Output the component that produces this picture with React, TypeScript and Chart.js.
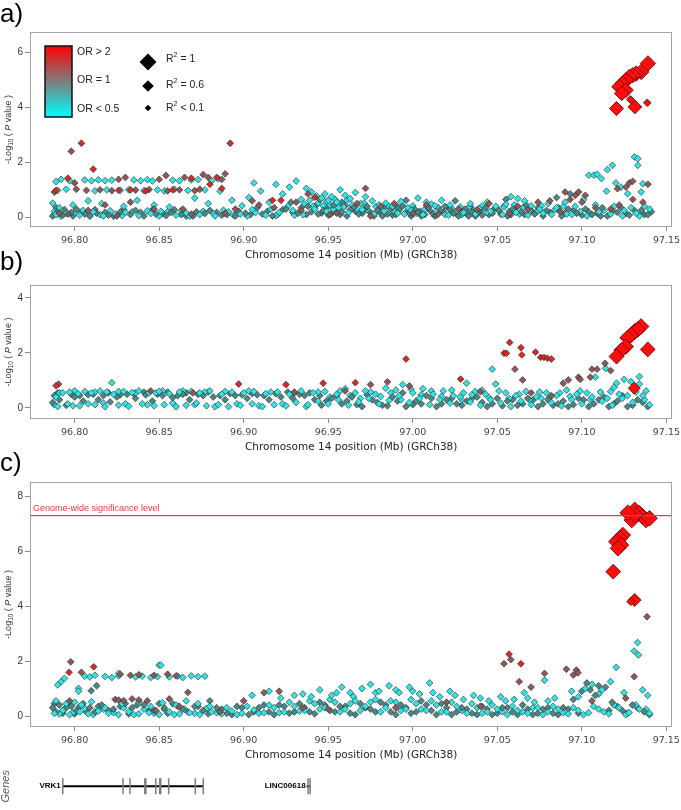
import React, { useEffect, useRef } from 'react';
import { Chart, registerables } from 'chart.js';
Chart.register(...registerables);

// ---------- shared axis values ----------
const X_MIN = 96.7736;
const X_MAX = 97.1535;
const xTicks = [96.8, 96.85, 96.9, 96.95, 97.0, 97.05, 97.1, 97.15];
const aYTicks = [0, 2, 4, 6];
const bYTicks = [0, 2, 4];
const cYTicks = [0, 2, 4, 6, 8];
const sigLevel = 7.3;
const xTitle = 'Chromosome 14 position (Mb) (GRCh38)';

// ---------- panel a ----------
const aCyan: [number, number][] = [
  [96.789,1.30],[96.792,1.38],[96.797,1.33],[96.806,1.36],[96.810,1.33],[96.814,1.36],[96.818,1.33],[96.822,1.35],[96.835,1.36],[96.839,1.33],[96.843,1.37],[96.846,1.32],[96.858,1.35],[96.862,1.33],[96.869,1.36],[96.873,1.37],[96.881,1.33],[96.885,1.40],
  [96.790,0.98],[96.795,1.02],[96.812,0.96],[96.819,1.00],[96.827,0.98],[96.832,1.00],[96.841,0.97],[96.849,1.00],[96.853,0.96],[96.859,1.02],[96.867,0.98],[96.877,1.00],[96.886,0.95],
  [96.787,0.52],[96.791,0.35],[96.799,0.45],[96.808,0.60],[96.816,0.50],[96.829,0.40],[96.837,0.62],[96.847,0.45],[96.856,0.38],[96.871,0.70],[96.879,0.50],[96.893,0.62],[96.899,0.42],
  [96.903,0.72],[96.906,1.25],[96.910,0.95],[96.915,0.55],[96.919,1.20],[96.923,0.85],[96.927,1.10],[96.931,1.32],[96.934,0.65],[96.937,1.05],[96.940,0.92],[96.943,0.78],[96.946,0.70],[96.948,0.85],[96.950,0.62],[96.952,0.75],[96.955,0.55],[96.957,1.00],[96.960,0.80],[96.963,0.68],[96.966,0.90],[96.969,0.50],[96.972,0.75],[96.976,0.60],[96.980,0.45],[96.984,0.52],[96.988,0.40],[96.993,0.58],[96.997,0.35],[97.003,0.70],[97.008,0.55],[97.013,0.42],[97.017,0.62],[97.022,0.45],[97.028,0.38],[97.034,0.50],[97.039,0.32],[97.044,0.55],[97.049,0.40],
  [97.055,0.48],[97.058,0.75],[97.062,0.68],[97.066,0.60],[97.070,0.42],[97.075,0.30],[97.080,0.50],[97.085,0.35],[97.090,0.55],[97.096,0.40],[97.101,0.65],[97.104,1.53],[97.107,1.53],[97.109,1.56],[97.1115,1.41],[97.1145,0.95],[97.115,1.73],[97.118,1.89],[97.120,1.25],[97.127,0.86],[97.131,2.19],[97.133,2.13],[97.133,1.89],[97.135,0.92],[97.136,1.22],[97.123,1.10],
  [96.789,0.10],[96.795,0.15],[96.803,0.08],[96.811,0.20],[96.817,0.05],[96.824,0.12],[96.830,0.18],[96.838,0.06],[96.845,0.14],[96.851,0.22],[96.860,0.08],[96.866,0.16],[96.874,0.10],[96.883,0.05],[96.891,0.20],[96.898,0.12],[96.905,0.28],[96.913,0.08],[96.921,0.18],[96.929,0.25],[96.935,0.10],[96.942,0.30],[96.949,0.22],[96.956,0.35],[96.962,0.18],[96.970,0.28],[96.977,0.12],[96.983,0.22],[96.991,0.15],[96.999,0.25],[97.006,0.10],[97.014,0.20],[97.021,0.08],[97.030,0.18],[97.037,0.12],[97.046,0.22],[97.053,0.10],[97.061,0.18],[97.068,0.08],[97.077,0.15],[97.087,0.22],[97.094,0.10],[97.110,0.20],[97.117,0.12],[97.125,0.25],[97.132,0.15],[97.140,0.30]
];
const aCyanLow: [number, number][] = [
  [96.788,0.22],[96.792,0.05],[96.800,0.18],[96.805,0.25],[96.815,0.10],[96.821,0.24],[96.828,0.06],[96.834,0.20],[96.843,0.24],[96.850,0.05],[96.855,0.20],[96.863,0.24],[96.868,0.04],[96.876,0.22],[96.882,0.14],[96.888,0.26],[96.894,0.08],[96.902,0.05],[96.907,0.18],[96.916,0.30],[96.919,0.06],[96.926,0.40],[96.930,0.08],[96.936,0.48],[96.939,0.62],[96.941,0.40],[96.944,0.52],[96.947,0.42],[96.949,0.58],[96.951,0.45],[96.953,0.30],[96.954,0.65],[96.956,0.48],[96.959,0.38],[96.961,0.62],[96.964,0.45],[96.967,0.30],[96.971,0.52],[96.974,0.22],[96.978,0.40],[96.981,0.30],[96.986,0.38],[96.989,0.22],[96.992,0.32],[96.995,0.12],[97.000,0.42],[97.002,0.15],[97.007,0.30],[97.011,0.48],[97.015,0.35],[97.019,0.10],[97.023,0.32],[97.026,0.22],[97.029,0.10],[97.033,0.35],[97.036,0.25],[97.041,0.42],[97.044,0.18],[97.050,0.30],[97.054,0.38],[97.057,0.22],[97.060,0.45],[97.063,0.12],[97.065,0.35],[97.069,0.25],[97.073,0.18],[97.076,0.42],[97.082,0.10],[97.084,0.28],[97.089,0.40],[97.091,0.12],[97.099,0.22],[97.103,0.05],[97.108,0.45],[97.113,0.25],[97.119,0.40],[97.124,0.05],[97.129,0.35],[97.134,0.05],[97.137,0.40]
];
const aTeal: [number, number][] = [
  [96.787,0.05],[96.790,0.22],[96.793,0.08],[96.798,0.18],[96.801,0.30],[96.806,0.12],[96.809,0.04],[96.813,0.15],[96.820,0.08],[96.827,0.20],[96.833,0.10],[96.836,0.25],[96.841,0.05],[96.848,0.12],[96.854,0.06],[96.857,0.18],[96.863,0.10],[96.870,0.05],[96.877,0.14],[96.880,0.25],[96.887,0.08],[96.895,0.05],[96.901,0.15],[96.908,0.35],[96.911,0.12],[96.917,0.05],[96.925,0.30],[96.932,0.15],[96.938,0.40],[96.944,0.12],[96.947,0.25],[96.953,0.45],[96.958,0.20],[96.961,0.05],[96.965,0.35],[96.968,0.12],[96.973,0.40],[96.979,0.25],[96.982,0.05],[96.987,0.30],[96.990,0.10],[96.994,0.42],[96.998,0.15],[97.001,0.30],[97.005,0.05],[97.009,0.35],[97.012,0.12],[97.016,0.25],[97.019,0.40],[97.024,0.15],[97.027,0.05],[97.031,0.30],[97.035,0.20],[97.041,0.08],[97.043,0.35],[97.047,0.15],[97.051,0.25],[97.056,0.05],[97.059,0.30],[97.064,0.20],[97.067,0.45],[97.072,0.12],[97.079,0.25],[97.088,0.05],[97.092,0.30],[97.097,0.15],[97.102,0.30],[97.106,0.10],[97.112,0.35],[97.115,0.05],[97.121,0.18],[97.128,0.08],[97.135,0.25],[97.139,0.10],
  [96.928,0.55],[96.945,0.65],[96.958,0.55],[96.996,0.62],[97.025,0.60],[97.055,0.65],[97.085,0.72],[97.093,0.85],
  [96.940,0.20],[96.950,0.08],[96.963,0.28],[96.975,0.18],[96.985,0.12],[96.992,0.25],[97.003,0.18],[97.014,0.08],[97.022,0.28],[97.033,0.05],[97.039,0.22]
];
const aTealLow: [number, number][] = [
  [96.789,0.35],[96.794,0.28],[96.799,0.05],[96.804,0.20],[96.812,0.28],[96.818,0.18],[96.823,0.04],[96.829,0.28],[96.839,0.18],[96.846,0.28],[96.852,0.15],[96.859,0.28],[96.866,0.05],[96.872,0.20],[96.884,0.18],[96.890,0.10],[96.897,0.22],[96.904,0.10],[96.914,0.22],[96.920,0.10],[96.923,0.28],[96.929,0.18],[96.934,0.35],[96.937,0.10],[96.943,0.45],[96.946,0.15],[96.949,0.35],[96.952,0.15],[96.955,0.25],[96.957,0.10],[96.960,0.42],[96.966,0.22],[96.970,0.15],[96.972,0.30],[96.977,0.05],[96.980,0.20],[96.983,0.35],[96.988,0.08],[96.991,0.38],[96.997,0.25],[96.999,0.05],[97.004,0.22],[97.007,0.10],[97.010,0.25],[97.013,0.05],[97.018,0.20],[97.021,0.35],[97.026,0.12],[97.029,0.25],[97.032,0.12],[97.034,0.40],[97.037,0.05],[97.040,0.25],[97.045,0.10],[97.048,0.30],[97.052,0.12],[97.054,0.40],[97.058,0.10],[97.061,0.35],[97.066,0.10],[97.070,0.25],[97.074,0.35],[97.077,0.05],[97.081,0.18],[97.086,0.35],[97.090,0.15],[97.095,0.25],[97.100,0.08],[97.104,0.20],[97.109,0.15],[97.111,0.05],[97.118,0.25],[97.123,0.35],[97.126,0.15],[97.131,0.25],[97.137,0.10],[97.141,0.20]
];
const aBrown: [number, number][] = [
  [96.788,0.92],[96.801,1.02],[96.807,0.98],[96.815,1.00],[96.822,0.97],[96.836,0.99],[96.844,1.01],[96.855,0.96],[96.862,1.00],[96.871,0.97],[96.874,1.02],
  [96.800,1.25],[96.826,1.38],[96.830,1.45],[96.850,1.38],[96.854,1.52],[96.865,1.45],[96.876,1.55],[96.879,1.45],[96.889,1.58],[96.887,1.38],
  [96.798,2.40],
  [96.796,0.12],[96.818,0.45],[96.833,0.55],[96.864,0.30],[96.889,0.15],[96.909,0.45],[96.934,0.25],[96.951,0.10],[96.975,0.05],[96.989,0.50],[97.015,0.12],[97.038,0.28],[97.057,0.15],[97.074,0.55],[97.090,0.92],[97.096,0.80],[97.098,0.92],[97.100,0.55],[97.121,1.04],[97.126,1.10],[97.128,1.25],[97.130,1.31],[97.139,1.20],[97.122,0.45],[97.130,0.65],[97.108,0.35],[96.972,1.05],[96.938,0.85],
  [96.791,0.15],[96.808,0.25],[96.825,0.05],[96.847,0.30],[96.869,0.12],[96.895,0.30],[96.905,0.60],[96.918,0.35],[96.931,0.55],[96.955,0.15],[96.967,0.50],[96.981,0.40],[97.000,0.15],[97.008,0.45],[97.027,0.30],[97.045,0.50],[97.062,0.40],[97.068,0.28],[97.081,0.60],[97.087,0.20],[97.093,0.65],[97.102,0.80],[97.117,0.30],[97.136,0.55]
];
const aRed: [number, number][] = [
  [96.804,2.69],[96.892,2.69],[96.811,1.75],[96.796,1.42],[96.789,0.98],[96.826,0.98],[96.833,1.00],[96.842,0.96],[96.858,1.00],[96.884,1.45],[96.887,1.05],[96.869,1.42],[96.880,1.20],[96.917,0.62],[96.922,0.62],[96.942,0.73]
];
const aLead: [number, number, number][] = [
  [97.139,5.59,0.85],[97.135,5.28,0.85],[97.132,5.22,0.85],[97.130,5.16,0.85],[97.128,5.10,0.82],[97.126,4.98,0.82],[97.124,4.86,0.8],[97.122,4.74,0.8],[97.126,4.62,0.78],[97.1235,4.50,0.78],[97.1204,3.95,0.72],[97.1313,4.01,0.68],[97.1286,4.28,0.12],[97.1386,4.16,0.08]
];

// ---------- panel b ----------
const bCyan: [number, number][] = [
  [96.789,0.40],[96.793,0.55],[96.797,0.58],[96.802,0.52],[96.806,0.60],[96.810,0.55],[96.815,0.62],[96.819,0.58],[96.823,0.50],[96.829,0.60],[96.834,0.56],[96.838,0.62],[96.844,0.55],[96.850,0.60],[96.856,0.52],[96.862,0.58],[96.869,0.60],[96.874,0.55],[96.880,0.62],[96.887,0.50],[96.893,0.58],[96.900,0.55],[96.906,0.60],[96.913,0.52],[96.920,0.58],[96.927,0.50],[96.934,0.62],[96.941,0.55],[96.948,0.60],[96.955,0.50],[96.822,0.92],
  [96.790,0.05],[96.796,0.15],[96.803,0.08],[96.812,0.12],[96.818,0.05],[96.826,0.10],[96.832,0.06],[96.840,0.15],[96.847,0.08],[96.853,0.12],[96.860,0.05],[96.866,0.10],[96.872,0.18],[96.878,0.08],[96.885,0.12],[96.891,0.05],[96.898,0.10],[96.905,0.15],[96.911,0.05],[96.918,0.12],[96.925,0.08],[96.931,0.20],[96.938,0.12],[96.944,0.25],[96.950,0.15],[96.956,0.30],[96.962,0.10],[96.968,0.22],[96.974,0.35],[96.980,0.15],[96.986,0.28],[96.992,0.45],[96.998,0.20],[97.004,0.35],[97.010,0.12],[97.016,0.30],[97.022,0.18],[97.028,0.40],[97.034,0.22],[97.040,0.10],[97.046,0.30],[97.052,0.18],[97.058,0.05],[97.064,0.25],[97.070,0.12],[97.076,0.35],[97.082,0.20],[97.088,0.08],[97.094,0.30],[97.100,0.15],[97.106,0.40],[97.112,0.25],[97.118,0.10],[97.124,0.35],[97.130,0.20],[97.136,0.45],[97.140,0.12],
  [96.960,0.70],[96.966,0.55],[96.972,0.62],[96.978,0.50],[96.984,0.72],[96.990,0.65],[96.994,0.85],[97.000,0.55],[97.006,0.70],[97.012,0.50],[97.018,0.62],[97.024,0.45],[97.030,0.55],[97.0318,0.90],[97.037,0.60],[97.043,0.50],[97.047,1.41],[97.049,0.87],[97.055,0.55],[97.061,0.45],[97.067,0.60],[97.073,0.40],[97.079,0.55],[97.085,0.45],[97.091,0.65],[97.097,0.50],[97.103,0.55],[97.108,1.12],[97.114,1.44],[97.1205,0.90],[97.125,1.04],[97.129,0.96],[97.134,1.14],[97.134,0.87],[97.117,0.60],[97.122,0.50],[97.138,0.62]
];
const bCyanLow: [number, number][] = [
  [96.788,0.12],[96.791,0.55],[96.799,0.08],[96.800,0.62],[96.808,0.15],[96.812,0.58],[96.817,0.18],[96.826,0.60],[96.830,0.15],[96.836,0.55],[96.843,0.12],[96.848,0.55],[96.852,0.62],[96.858,0.18],[96.864,0.62],[96.871,0.12],[96.877,0.58],[96.883,0.05],[96.889,0.60],[96.896,0.15],[96.903,0.62],[96.909,0.08],[96.916,0.58],[96.923,0.15],[96.930,0.55],[96.937,0.05],[96.944,0.58],[96.951,0.40],[96.957,0.62],[96.963,0.45],[96.969,0.35],[96.975,0.58],[96.981,0.42],[96.987,0.55],[96.993,0.30],[96.999,0.68],[97.005,0.48],[97.011,0.62],[97.017,0.42],[97.023,0.65],[97.029,0.30],[97.035,0.48],[97.041,0.65],[97.045,0.38],[97.051,0.62],[97.057,0.35],[97.063,0.50],[97.069,0.30],[97.075,0.58],[97.081,0.38],[97.087,0.55],[97.093,0.42],[97.099,0.62],[97.105,0.30],[97.111,0.58],[97.115,0.35],[97.119,0.75],[97.127,0.45],[97.132,0.58],[97.137,0.30]
];
const bTeal: [number, number][] = [
  [96.787,0.20],[96.788,0.45],[96.791,0.30],[96.795,0.10],[96.800,0.40],[96.805,0.25],[96.808,0.48],[96.814,0.30],[96.817,0.45],[96.821,0.22],[96.825,0.40],[96.831,0.50],[96.836,0.35],[96.842,0.48],[96.846,0.25],[96.852,0.45],[96.858,0.38],[96.864,0.50],[96.868,0.30],[96.876,0.45],[96.882,0.40],[96.889,0.30],[96.895,0.45],[96.902,0.35],[96.908,0.48],[96.915,0.30],[96.922,0.40],[96.929,0.35],[96.936,0.45],[96.942,0.30],[96.946,0.10],[96.952,0.35],[96.958,0.15],[96.964,0.40],[96.970,0.05],[96.976,0.30],[96.982,0.10],[96.988,0.40],[96.996,0.05],[97.002,0.25],[97.008,0.45],[97.014,0.05],[97.020,0.30],[97.026,0.15],[97.032,0.25],[97.038,0.40],[97.044,0.05],[97.050,0.35],[97.056,0.25],[97.062,0.10],[97.068,0.35],[97.074,0.05],[97.080,0.30],[97.086,0.15],[97.092,0.05],[97.098,0.35],[97.104,0.05],[97.110,0.30],[97.116,0.05],[97.121,0.25],[97.127,0.05],[97.133,0.30],[97.139,0.05]
];
const bTealLow: [number, number][] = [
  [96.790,0.55],[96.798,0.50],[96.803,0.45],[96.811,0.50],[96.820,0.55],[96.827,0.48],[96.835,0.52],[96.841,0.58],[96.849,0.50],[96.855,0.58],[96.861,0.45],[96.866,0.55],[96.873,0.50],[96.879,0.58],[96.886,0.45],[96.892,0.52],[96.899,0.48],[96.905,0.52],[96.912,0.45],[96.919,0.52],[96.926,0.58],[96.933,0.50],[96.939,0.55],[96.945,0.45],[96.949,0.25],[96.955,0.45],[96.961,0.25],[96.967,0.12],[96.973,0.48],[96.979,0.20],[96.985,0.08],[96.991,0.25],[96.994,0.55],[97.000,0.12],[97.005,0.15],[97.011,0.35],[97.017,0.15],[97.023,0.35],[97.029,0.10],[97.035,0.35],[97.041,0.20],[97.047,0.15],[97.053,0.08],[97.059,0.30],[97.065,0.15],[97.071,0.28],[97.077,0.15],[97.083,0.10],[97.089,0.25],[97.095,0.12],[97.101,0.30],[97.107,0.15],[97.113,0.40],[97.119,0.15],[97.124,0.45],[97.130,0.10],[97.136,0.20]
];
const bBrown: [number, number][] = [
  [96.7905,0.87],[96.845,0.62],[96.870,0.55],[96.930,0.58],[96.960,0.62],[96.975,0.85],[96.985,0.95],[96.998,0.80],[97.0604,1.41],[97.065,1.02],[97.089,0.90],[97.092,1.02],[97.098,1.12],[97.099,1.04],[97.105,1.12],[97.106,1.41],[97.109,1.41],[97.1137,1.62],[97.117,1.36],[97.082,0.45],[97.070,0.55],[97.040,0.60]
];
const bRed: [number, number][] = [
  [96.789,0.81],[96.897,0.87],[96.925,0.85],[96.947,0.90],[96.966,0.92],[96.996,1.78],[97.0283,1.05],[97.0573,2.38],[97.054,1.99],[97.0554,1.99],[97.064,2.19],[97.0645,1.93],[97.0726,2.03],[97.0756,1.84],[97.0776,1.84],[97.0796,1.81],[97.082,1.78]
];
const bLead: [number, number, number][] = [
  [97.135,2.96,0.88],[97.1313,2.78,0.88],[97.133,2.85,0.86],[97.129,2.65,0.86],[97.127,2.55,0.84],[97.126,2.23,0.84],[97.1235,2.11,0.82],[97.1205,1.87,0.8],[97.139,2.13,0.78],[97.131,0.72,0.5]
];

// ---------- panel c ----------
const cCyan: [number, number][] = [
  [96.806,1.45],[96.809,1.42],[96.812,1.48],[96.818,1.44],[96.822,1.40],[96.826,1.46],[96.836,1.42],[96.840,1.45],[96.845,1.40],[96.849,1.43],[96.856,1.42],[96.861,1.45],[96.864,1.40],[96.869,1.46],[96.873,1.43],[96.877,1.45],
  [96.792,1.25],[96.794,1.37],[96.790,1.13],[96.8023,1.00],[96.8023,0.90],[96.850,1.85],[96.851,1.85],[96.826,1.55],
  [96.789,0.55],[96.795,0.45],[96.800,0.50],[96.804,0.40],[96.810,0.52],[96.818,0.30],[96.828,0.45],[96.838,0.50],[96.845,0.35],[96.852,0.48],[96.860,0.40],[96.866,0.55],[96.873,0.45],[96.880,0.35],
  [96.788,0.10],[96.793,0.20],[96.797,0.05],[96.803,0.15],[96.808,0.08],[96.814,0.18],[96.820,0.10],[96.826,0.05],[96.832,0.15],[96.838,0.08],[96.844,0.12],[96.850,0.05],[96.856,0.15],[96.862,0.08],[96.868,0.12],[96.874,0.05],[96.881,0.15],[96.887,0.08],[96.893,0.18],[96.899,0.10],[96.906,0.22],[96.912,0.12],[96.918,0.30],[96.924,0.15],[96.930,0.35],[96.936,0.20],[96.942,0.45],[96.948,0.30],[96.954,0.50],[96.960,0.25],[96.966,0.55],[96.972,0.35],[96.978,0.60],[96.984,0.30],[96.990,0.50],[96.996,0.25],[97.002,0.45],[97.008,0.20],[97.014,0.40],[97.020,0.15],[97.026,0.35],[97.032,0.10],[97.038,0.30],[97.044,0.15],[97.050,0.25],[97.056,0.05],[97.062,0.20],[97.068,0.10],[97.074,0.30],[97.080,0.15],[97.086,0.25],[97.092,0.08],[97.098,0.20],[97.104,0.12],[97.110,0.25],[97.116,0.08],[97.122,0.30],[97.128,0.12],[97.134,0.25],[97.140,0.10],
  [96.905,0.75],[96.915,0.90],[96.922,0.65],[96.935,0.80],[96.945,0.95],[96.952,0.75],[96.958,1.05],[96.963,0.85],[96.970,1.00],[96.975,1.15],[96.980,0.90],[96.986,1.10],[96.992,0.85],[96.998,1.05],[97.004,0.80],[97.010,1.20],[97.016,0.70],[97.022,0.90],[97.030,0.60],[97.036,0.75],[97.045,0.55],[97.052,0.70],[97.060,0.60],[97.066,0.85],[97.072,0.50],[97.078,1.30],[97.084,0.65],[97.094,0.90],[97.102,1.00],[97.106,1.15],[97.112,0.95],[97.117,1.25],[97.1204,1.77],[97.133,2.67],[97.131,2.36],[97.1335,2.22],[97.125,0.85],[97.136,0.95],[97.139,0.75]
];
const cCyanLow: [number, number][] = [
  [96.791,0.08],[96.795,0.30],[96.799,0.12],[96.806,0.28],[96.811,0.05],[96.817,0.25],[96.823,0.12],[96.829,0.30],[96.835,0.05],[96.841,0.25],[96.847,0.10],[96.853,0.25],[96.859,0.05],[96.865,0.25],[96.871,0.10],[96.878,0.28],[96.884,0.12],[96.890,0.30],[96.896,0.05],[96.902,0.35],[96.909,0.10],[96.915,0.40],[96.921,0.12],[96.927,0.50],[96.933,0.18],[96.939,0.55],[96.945,0.25],[96.951,0.60],[96.957,0.15],[96.963,0.45],[96.969,0.20],[96.975,0.50],[96.981,0.15],[96.987,0.55],[96.993,0.20],[96.999,0.60],[97.005,0.25],[97.011,0.55],[97.017,0.15],[97.023,0.50],[97.029,0.20],[97.035,0.45],[97.041,0.10],[97.047,0.40],[97.053,0.15],[97.059,0.35],[97.065,0.15],[97.071,0.30],[97.077,0.05],[97.083,0.35],[97.089,0.12],[97.095,0.30],[97.101,0.05],[97.107,0.35],[97.113,0.15],[97.119,0.40],[97.126,0.05],[97.132,0.40],[97.138,0.25],
  [96.930,0.75],[96.940,0.70],[96.955,0.85],[96.965,0.70],[96.978,0.85],[96.990,0.95],[97.000,0.90],[97.012,0.85],[97.025,0.75],[97.040,0.65],[97.055,0.55],[97.068,0.65],[97.080,0.55],[97.098,0.70],[97.110,0.80]
];
const cTeal: [number, number][] = [
  [96.787,0.30],[96.789,0.15],[96.791,0.40],[96.794,0.25],[96.798,0.35],[96.801,0.20],[96.805,0.45],[96.809,0.30],[96.812,0.15],[96.816,0.40],[96.823,0.25],[96.830,0.45],[96.834,0.30],[96.841,0.40],[96.847,0.20],[96.853,0.30],[96.858,0.45],[96.864,0.25],[96.871,0.35],[96.876,0.20],[96.8098,0.92],[96.813,1.10],[96.880,0.55],[96.884,0.30],[96.890,0.10],[96.896,0.35],[96.903,0.05],[96.909,0.30],[96.915,0.15],[96.921,0.40],[96.927,0.10],[96.933,0.45],[96.939,0.15],[96.945,0.50],[96.951,0.20],[96.957,0.35],[96.963,0.10],[96.969,0.45],[96.975,0.25],[96.981,0.50],[96.987,0.15],[96.993,0.40],[96.999,0.10],[97.005,0.55],[97.011,0.20],[97.017,0.45],[97.023,0.05],[97.029,0.30],[97.035,0.10],[97.041,0.35],[97.047,0.05],[97.053,0.30],[97.059,0.15],[97.065,0.40],[97.071,0.05],[97.077,0.25],[97.083,0.10],[97.089,0.30],[97.095,0.60],[97.100,0.90],[97.103,1.20],[97.108,0.75],[97.114,1.05],[97.118,0.50],[97.124,0.20],[97.130,0.40],[97.137,0.15]
];
const cTealLow: [number, number][] = [
  [96.788,0.45],[96.793,0.10],[96.796,0.40],[96.800,0.08],[96.803,0.35],[96.807,0.15],[96.814,0.35],[96.820,0.20],[96.827,0.35],[96.832,0.08],[96.837,0.40],[96.844,0.20],[96.850,0.45],[96.855,0.10],[96.861,0.35],[96.867,0.15],[96.873,0.35],[96.879,0.08],[96.887,0.25],[96.893,0.05],[96.899,0.30],[96.906,0.15],[96.912,0.40],[96.918,0.05],[96.924,0.35],[96.930,0.15],[96.936,0.30],[96.942,0.08],[96.948,0.40],[96.954,0.15],[96.960,0.35],[96.966,0.05],[96.972,0.30],[96.978,0.15],[96.984,0.40],[96.990,0.05],[96.996,0.30],[97.002,0.15],[97.008,0.40],[97.014,0.05],[97.020,0.30],[97.026,0.15],[97.032,0.25],[97.038,0.05],[97.044,0.25],[97.050,0.10],[97.056,0.30],[97.062,0.05],[97.068,0.25],[97.074,0.10],[97.080,0.30],[97.086,0.05],[97.092,0.25],[97.098,0.10],[97.105,0.95],[97.110,1.10],[97.116,0.20],[97.121,0.35],[97.127,0.10],[97.133,0.30],[97.140,0.05]
];
const cBrown: [number, number][] = [
  [96.7977,1.97],[96.804,1.59],[96.827,1.52],[96.833,1.48],[96.838,1.50],[96.847,1.48],[96.855,1.52],[96.860,1.46],[96.867,0.86],[96.797,0.55],[96.824,0.60],[96.826,0.58],[96.829,0.56],[96.834,0.62],[96.838,0.58],[96.843,0.55],[96.848,0.20],[96.856,0.62],[96.862,0.35],[96.886,0.15],[96.900,0.55],[96.912,0.85],[96.921,0.90],[96.935,0.30],[96.950,0.25],[96.990,0.30],[97.020,0.50],[97.040,0.35],[97.054,1.90],[97.058,2.05],[97.063,1.25],[97.070,1.05],[97.078,1.55],[97.0909,1.70],[97.0968,1.67],[97.0978,1.57],[97.095,1.49],[97.131,1.43],[97.1386,3.61],[97.106,0.55],[97.126,0.65]
];
const cRed: [number, number][] = [
  [96.7967,1.59],[96.8113,1.79],[97.057,2.25],[97.064,1.90]
];
const cLead: [number, number, number][] = [
  [97.1313,7.49,0.9],[97.134,7.37,0.9],[97.136,7.25,0.88],[97.138,7.13,0.88],[97.1296,7.13,0.88],[97.1315,7.31,0.9],[97.1272,7.39,0.88],[97.1401,7.19,0.86],[97.1243,6.58,0.86],[97.1225,6.46,0.86],[97.1204,6.34,0.86],[97.1233,6.22,0.84],[97.1214,6.10,0.84],[97.1186,5.25,0.78],[97.1313,4.22,0.6],[97.129,4.16,0.12]
];

// ---------- gene track ----------
const vrk1Span = [96.793, 96.8762];
const vrk1Exons = [96.793, 96.8287, 96.8328, 96.8416, 96.8422, 96.8481, 96.8504, 96.851, 96.8557, 96.8715, 96.8762];
const lincSpan = [96.9374, 96.9395];
const lincExons = [96.9383, 96.9395];

// ---------- styling ----------
const COL = { cyan: '#2fe4e4', teal: '#4b8787', brown: '#8e5858', red: '#d42a2a', lead: '#ff0d0d' };
const EDGE = 'rgba(35,35,35,0.85)';
const SANS = '"Liberation Sans", Arial, sans-serif';
const DEJAVU = '"DejaVu Sans", Verdana, sans-serif';

const pointDs = (arr: [number, number][], color: string) => ({
  data: arr.map(([x, y]) => ({ x, y })),
  pointStyle: 'rectRot', pointRadius: 3.4, backgroundColor: color,
  borderColor: EDGE, borderWidth: 0.7, showLine: false
});
const leadDs = (arr: [number, number, number][]) => ({
  data: arr.map(([x, y, r2]) => ({ x, y, r2 })),
  pointStyle: 'rectRot',
  pointRadius: (c: any) => (c.raw ? 3.4 + 5.1 * c.raw.r2 : 3.4),
  backgroundColor: COL.lead, borderColor: '#5a0000', borderWidth: 0.8, showLine: false
});

const framePlugin = {
  id: 'frame',
  beforeDatasetsDraw(chart: any) {
    const { ctx, chartArea: a } = chart;
    ctx.save();
    ctx.strokeStyle = '#a3a3a3';
    ctx.lineWidth = 1;
    ctx.strokeRect(Math.round(a.left) + 0.5, Math.round(a.top) + 0.5, Math.round(a.right - a.left) - 1, Math.round(a.bottom - a.top) - 1);
    ctx.restore();
  }
};

const yTitlePlugin = {
  id: 'ytitle',
  afterDraw(chart: any) {
    const { ctx, chartArea: a } = chart;
    const yc = (a.top + a.bottom) / 2;
    ctx.save();
    ctx.translate(11, yc);
    ctx.rotate(-Math.PI / 2);
    ctx.fillStyle = '#333';
    ctx.textBaseline = 'alphabetic';
    const parts = [
      { t: '-Log', f: `9px ${SANS}`, dy: 0 },
      { t: '10', f: `6.5px ${SANS}`, dy: 2 },
      { t: ' ( ', f: `9px ${SANS}`, dy: 0 },
      { t: 'P', f: `italic 9px ${SANS}`, dy: 0 },
      { t: ' value )', f: `9px ${SANS}`, dy: 0 }
    ];
    let total = 0;
    for (const p of parts) { ctx.font = p.f; total += ctx.measureText(p.t).width; }
    let x = -total / 2;
    for (const p of parts) {
      ctx.font = p.f;
      ctx.fillText(p.t, x, p.dy);
      x += ctx.measureText(p.t).width;
    }
    ctx.restore();
  }
};

const letterPlugin = (letter: string, baseline: number) => ({
  id: 'letter' + letter,
  afterDraw(chart: any) {
    const { ctx } = chart;
    ctx.save();
    ctx.fillStyle = '#000';
    ctx.font = `26px ${SANS}`;
    ctx.textBaseline = 'alphabetic';
    ctx.fillText(letter, 0, baseline);
    ctx.restore();
  }
});

const legendPlugin = {
  id: 'orlegend',
  afterDraw(chart: any) {
    const { ctx } = chart;
    ctx.save();
    const g = ctx.createLinearGradient(0, 46, 0, 117);
    g.addColorStop(0, '#ff0000');
    g.addColorStop(0.5, '#7d7d7d');
    g.addColorStop(1, '#00ffff');
    ctx.fillStyle = g;
    ctx.fillRect(45, 46, 27, 71);
    ctx.strokeStyle = '#111';
    ctx.lineWidth = 1.5;
    ctx.strokeRect(45, 46, 27, 71);
    ctx.fillStyle = '#222';
    ctx.font = `10.5px ${SANS}`;
    ctx.textBaseline = 'middle';
    ctx.fillText('OR > 2', 77, 52);
    ctx.fillText('OR = 1', 77, 80);
    ctx.fillText('OR < 0.5', 77, 109);
    const dia = (x: number, y: number, r: number) => {
      ctx.beginPath();
      ctx.moveTo(x - r, y); ctx.lineTo(x, y - r); ctx.lineTo(x + r, y); ctx.lineTo(x, y + r);
      ctx.closePath();
      ctx.fillStyle = '#000';
      ctx.fill();
    };
    dia(148, 62, 8.5);
    dia(148, 86, 5.8);
    dia(148, 108, 3.3);
    const rlab = (y: number, rest: string) => {
      ctx.fillStyle = '#222';
      ctx.font = `10.5px ${SANS}`;
      ctx.fillText('R', 166, y);
      const w = ctx.measureText('R').width;
      ctx.font = `7px ${SANS}`;
      ctx.fillText('2', 166 + w, y - 4);
      const w2 = ctx.measureText('2').width;
      ctx.font = `10.5px ${SANS}`;
      ctx.fillText(rest, 166 + w + w2, y);
    };
    rlab(59, ' = 1');
    rlab(85, ' = 0.6');
    rlab(108, ' < 0.1');
    ctx.restore();
  }
};

const sigPlugin = {
  id: 'sig',
  afterDatasetsDraw(chart: any) {
    const { ctx, chartArea: a, scales } = chart;
    const y = Math.round(scales.y.getPixelForValue(sigLevel));
    ctx.save();
    ctx.fillStyle = '#e8393b';
    ctx.fillRect(a.left + 1, y, a.right - a.left - 2, 1.2);
    ctx.font = `9px ${SANS}`;
    ctx.textBaseline = 'alphabetic';
    ctx.fillText('Genome-wide significance level', a.left + 3, y - 4.5);
    ctx.restore();
  }
};

function panelConfig(o: any) {
  const datasets = [
    leadDs(o.lead),
    pointDs(o.red, COL.red),
    pointDs(o.brown, COL.brown),
    pointDs(o.cyan, COL.cyan),
    pointDs(o.teal, COL.teal),
    pointDs(o.cyanLow, COL.cyan),
    pointDs(o.tealLow, COL.teal)
  ];
  return {
    type: 'scatter',
    data: { datasets },
    options: {
      animation: false,
      responsive: false,
      devicePixelRatio: 1,
      layout: { padding: { top: o.padTop, right: 3, left: 0, bottom: 0 } },
      plugins: { legend: { display: false }, tooltip: { enabled: false } },
      scales: {
        x: {
          type: 'linear', min: X_MIN, max: X_MAX,
          afterBuildTicks: (s: any) => { s.ticks = xTicks.map((v) => ({ value: v })); },
          afterFit: (s: any) => { s.height = 36; s.paddingLeft = 0; s.paddingRight = 0; },
          ticks: { callback: (v: number) => Number(v).toFixed(2), font: { family: DEJAVU, size: 9.5 }, color: '#444', padding: 4, maxRotation: 0, autoSkip: false },
          grid: { drawOnChartArea: false, drawTicks: true, tickLength: 4, color: '#8a8a8a' },
          border: { display: false },
          title: { display: true, text: xTitle, font: { family: DEJAVU, size: 10.5 }, color: '#222', padding: { top: 0, bottom: 1.7 } }
        },
        y: {
          type: 'linear', min: o.yMin, max: o.yMax,
          afterBuildTicks: (s: any) => { s.ticks = o.yTicks.map((v: number) => ({ value: v })); },
          afterFit: (s: any) => { s.width = 30; s.paddingTop = 0; s.paddingBottom = 0; },
          ticks: { font: { family: SANS, size: 10 }, color: '#333', padding: 2, autoSkip: false },
          grid: { drawOnChartArea: false, drawTicks: true, tickLength: 5, color: '#8a8a8a' },
          border: { display: false }
        }
      }
    },
    plugins: [framePlugin, yTitlePlugin, letterPlugin(o.letter, o.letterY), ...(o.extra || [])]
  } as any;
}

const geneLabelPlugin = {
  id: 'genelabels',
  afterDraw(chart: any) {
    const { ctx, scales } = chart;
    const y = scales.y.getPixelForValue(0.5);
    ctx.save();
    ctx.fillStyle = '#000';
    ctx.font = `bold 8px ${SANS}`;
    ctx.textAlign = 'right';
    ctx.textBaseline = 'middle';
    ctx.fillText('VRK1', scales.x.getPixelForValue(vrk1Span[0]) - 2, y);
    ctx.fillText('LINC00618', scales.x.getPixelForValue(lincSpan[0]) - 1, y);
    ctx.translate(9, y);
    ctx.rotate(-Math.PI / 2);
    ctx.textAlign = 'center';
    ctx.textBaseline = 'alphabetic';
    ctx.fillStyle = '#555';
    ctx.font = `italic 11px ${SANS}`;
    ctx.fillText('Genes', 0, 0);
    ctx.restore();
  }
};

function geneConfig() {
  const line = (span: number[]) => ({
    data: span.map((x) => ({ x, y: 0.5 })), showLine: true, borderColor: '#000', borderWidth: 2, pointRadius: 0
  });
  const exons = (arr: number[]) => ({
    data: arr.map((x) => ({ x, y: 0.5 })), showLine: false, pointStyle: 'line', rotation: 90,
    pointRadius: 8, borderColor: '#7c7c7c', borderWidth: 1.5, backgroundColor: '#7c7c7c'
  });
  return {
    type: 'scatter',
    data: { datasets: [exons(vrk1Exons), exons(lincExons), line(vrk1Span), line(lincSpan)] },
    options: {
      animation: false, responsive: false, devicePixelRatio: 1,
      layout: { padding: { top: 5, bottom: 12, left: 30, right: 3 } },
      plugins: { legend: { display: false }, tooltip: { enabled: false } },
      scales: {
        x: { type: 'linear', min: X_MIN, max: X_MAX, display: false },
        y: { type: 'linear', min: 0, max: 1, display: false }
      }
    },
    plugins: [geneLabelPlugin]
  } as any;
}

const panels = [
  { key: 'a', top: 0, height: 263, padTop: 32, yMin: -0.35, yMax: 6.73, yTicks: aYTicks, letter: 'a)', letterY: 22, cyan: aCyan, cyanLow: aCyanLow, teal: aTeal, tealLow: aTealLow, brown: aBrown, red: aRed, lead: aLead, extra: [legendPlugin] },
  { key: 'b', top: 250, height: 205, padTop: 35, yMin: -0.4, yMax: 4.47, yTicks: bYTicks, letter: 'b)', letterY: 19.5, cyan: bCyan, cyanLow: bCyanLow, teal: bTeal, tealLow: bTealLow, brown: bBrown, red: bRed, lead: bLead },
  { key: 'c', top: 440, height: 323, padTop: 42, yMin: -0.4, yMax: 8.51, yTicks: cYTicks, letter: 'c)', letterY: 31, cyan: cCyan, cyanLow: cCyanLow, teal: cTeal, tealLow: cTealLow, brown: cBrown, red: cRed, lead: cLead, extra: [sigPlugin] }
];

export default function App() {
  const refs = [useRef<HTMLCanvasElement>(null), useRef<HTMLCanvasElement>(null), useRef<HTMLCanvasElement>(null)];
  const geneRef = useRef<HTMLCanvasElement>(null);
  useEffect(() => {
    const charts: Chart[] = [];
    panels.forEach((p, i) => {
      if (refs[i].current) charts.push(new Chart(refs[i].current as HTMLCanvasElement, panelConfig(p)));
    });
    if (geneRef.current) charts.push(new Chart(geneRef.current, geneConfig()));
    return () => charts.forEach((c) => c.destroy());
  }, []);
  return (
    <div style={{ position: 'absolute', left: 0, top: 0, width: 681, height: 810, background: '#fff', overflow: 'hidden' }}>
      {panels.map((p, i) => (
        <canvas key={p.key} ref={refs[i]} width={681} height={p.height} style={{ position: 'absolute', left: 0, top: p.top }} />
      ))}
      <canvas ref={geneRef} width={681} height={45} style={{ position: 'absolute', left: 0, top: 765 }} />
    </div>
  );
}
